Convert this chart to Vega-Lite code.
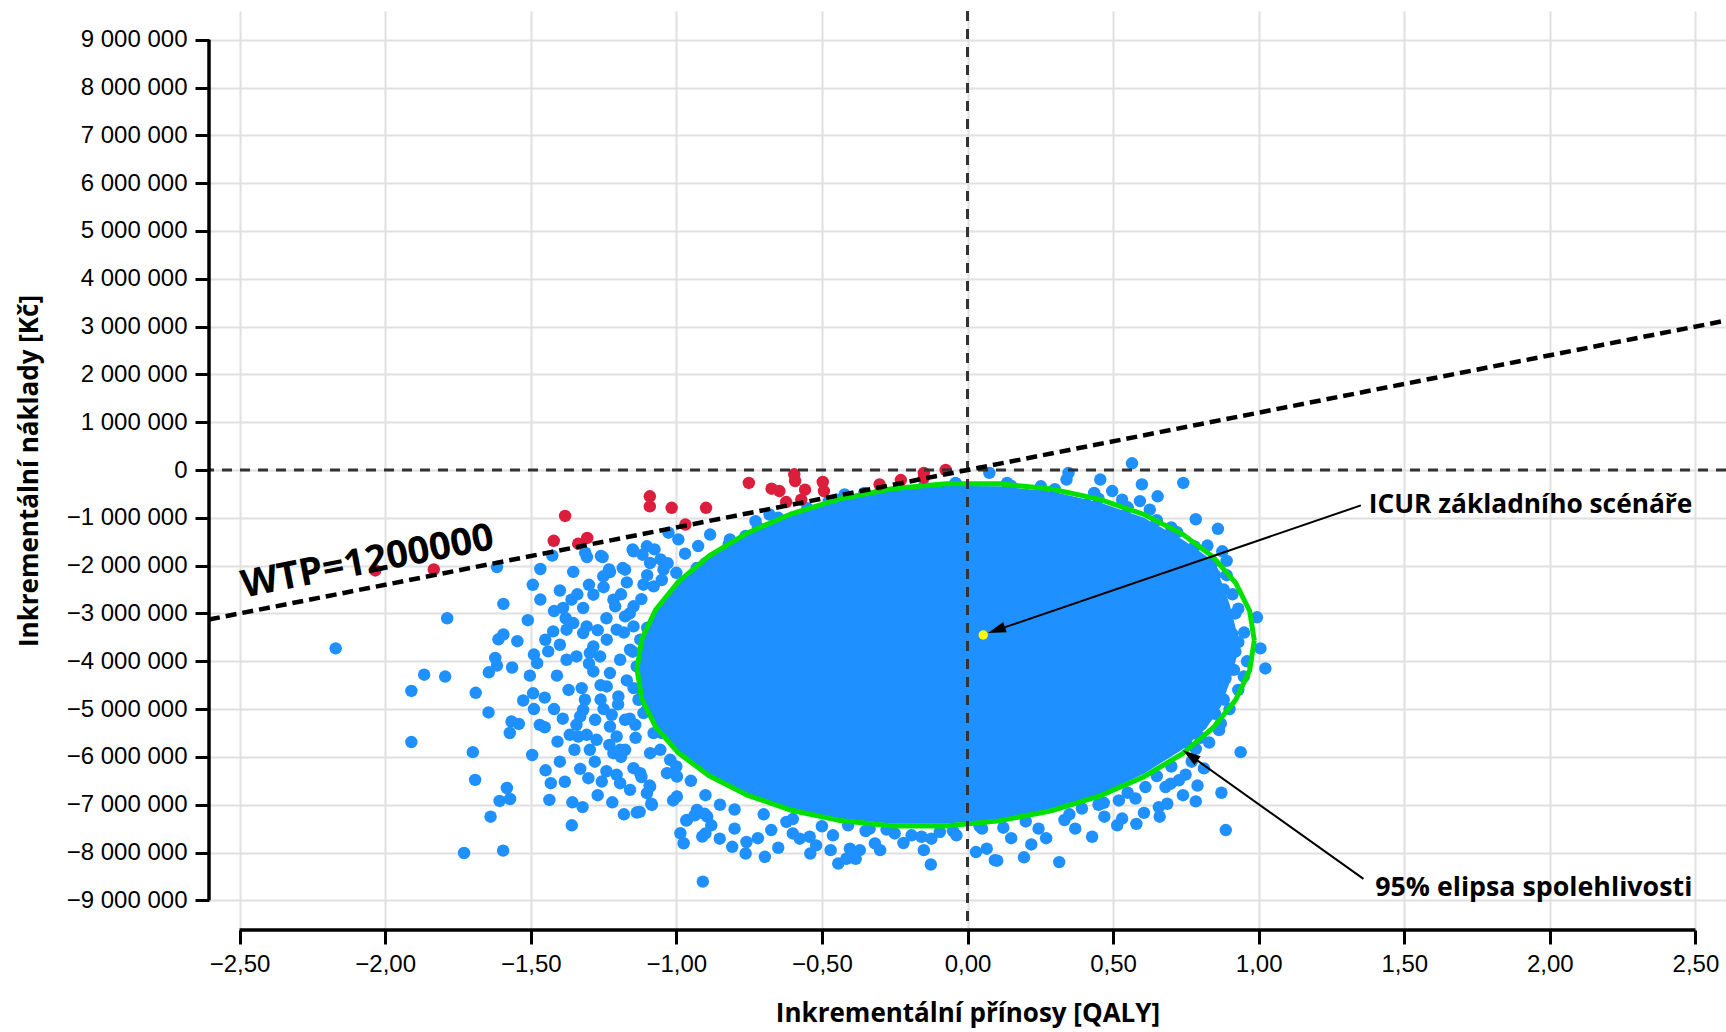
{
"$schema": "https://vega.github.io/schema/vega-lite/v6.json",
"width": 1517,
"height": 919,
"autosize": {"type": "none"},
"padding": {"left": 209, "top": 11, "right": 0, "bottom": 102},
"background": "white",
"data": {"values": [{}]},
"config": {
  "view": {"stroke": null},
  "locale": {"number": {"decimal": ",", "thousands": " ", "grouping": [3], "currency": ["", " Kč"], "minus": "\u2212"}},
  "axis": {"domain": false, "grid": true, "gridColor": "#e0e0e0", "gridWidth": 2, "ticks": true, "tickColor": "#000", "tickWidth": 3, "tickSize": 14, "labelFont": "Liberation Sans", "labelFontSize": 24, "labelColor": "#000", "labelPadding": 8, "labelFlush": false, "labelOverlap": false, "titleFont": "Open Sans", "titleFontWeight": "bold", "titleFontSize": 26, "titleColor": "#000"}
},
"datasets": {
  "core": [
    {"q":0.925,"top":-3400000,"bot":-3900000},{"q":0.9,"top":-2800000,"bot":-4450000},{"q":0.87,"top":-2300000,"bot":-4950000},{"q":0.82,"top":-1800000,"bot":-5400000},{"q":0.737,"top":-1450000,"bot":-5850000},{"q":0.606,"top":-1000000,"bot":-6350000},{"q":0.455,"top":-680000,"bot":-6780000},{"q":0.288,"top":-450000,"bot":-7080000},{"q":0.109,"top":-340000,"bot":-7300000},{"q":-0.075,"top":-330000,"bot":-7400000},{"q":-0.259,"top":-430000,"bot":-7400000},{"q":-0.438,"top":-650000,"bot":-7290000},{"q":-0.605,"top":-960000,"bot":-7080000},{"q":-0.756,"top":-1360000,"bot":-6770000},{"q":-0.887,"top":-1840000,"bot":-6360000},{"q":-0.993,"top":-2380000,"bot":-5880000},{"q":-1.071,"top":-2960000,"bot":-5340000},{"q":-1.115,"top":-3560000,"bot":-4760000},{"q":-1.13,"top":-4000000,"bot":-4300000}
  ],
  "ellipse": [
    {"i":0,"q":0.985,"c":-3565000},{"i":1,"q":0.969,"c":-2948000},{"i":2,"q":0.921,"c":-2359000},{"i":3,"q":0.843,"c":-1815000},{"i":4,"q":0.737,"c":-1334000},{"i":5,"q":0.606,"c":-930000},{"i":6,"q":0.455,"c":-615000},{"i":7,"q":0.288,"c":-398000},{"i":8,"q":0.109,"c":-287000},{"i":9,"q":-0.075,"c":-285000},{"i":10,"q":-0.259,"c":-391000},{"i":11,"q":-0.438,"c":-603000},{"i":12,"q":-0.605,"c":-915000},{"i":13,"q":-0.756,"c":-1316000},{"i":14,"q":-0.887,"c":-1794000},{"i":15,"q":-0.993,"c":-2335000},{"i":16,"q":-1.071,"c":-2923000},{"i":17,"q":-1.119,"c":-3539000},{"i":18,"q":-1.135,"c":-4165000},{"i":19,"q":-1.119,"c":-4782000},{"i":20,"q":-1.071,"c":-5371000},{"i":21,"q":-0.993,"c":-5915000},{"i":22,"q":-0.887,"c":-6396000},{"i":23,"q":-0.756,"c":-6800000},{"i":24,"q":-0.605,"c":-7115000},{"i":25,"q":-0.438,"c":-7332000},{"i":26,"q":-0.259,"c":-7443000},{"i":27,"q":-0.075,"c":-7445000},{"i":28,"q":0.109,"c":-7338000},{"i":29,"q":0.288,"c":-7126000},{"i":30,"q":0.455,"c":-6815000},{"i":31,"q":0.606,"c":-6415000},{"i":32,"q":0.737,"c":-5936000},{"i":33,"q":0.843,"c":-5395000},{"i":34,"q":0.921,"c":-4808000},{"i":35,"q":0.969,"c":-4191000},{"i":36,"q":0.985,"c":-3565000}
  ],
  "red": [
    {"q":-2.034,"c":-2100000},{"q":-1.833,"c":-2080000},{"q":-1.382,"c":-960000},{"q":-1.421,"c":-1480000},{"q":-1.337,"c":-1540000},{"q":-1.306,"c":-1420000},{"q":-1.091,"c":-550000},{"q":-1.091,"c":-760000},{"q":-1.016,"c":-790000},{"q":-0.898,"c":-790000},{"q":-0.969,"c":-1140000},{"q":-0.751,"c":-270000},{"q":-0.673,"c":-390000},{"q":-0.646,"c":-440000},{"q":-0.623,"c":-670000},{"q":-0.595,"c":-90000},{"q":-0.592,"c":-230000},{"q":-0.558,"c":-410000},{"q":-0.571,"c":-620000},{"q":-0.497,"c":-250000},{"q":-0.493,"c":-440000},{"q":-0.302,"c":-300000},{"q":-0.229,"c":-210000},{"q":-0.15,"c":-60000},{"q":-0.15,"c":-160000},{"q":-0.075,"c":0}
  ],
  "base": [{"q":0.054,"c":-3450000}],
  "blue": [
    {"q":-2.17,"c":-3730000},{"q":-1.787,"c":-3100000},{"q":-1.866,"c":-4280000},{"q":-1.794,"c":-4320000},{"q":-1.91,"c":-4620000},{"q":-1.91,"c":-5690000},{"q":-1.689,"c":-4660000},{"q":-1.645,"c":-5070000},{"q":-1.699,"c":-5900000},{"q":-1.691,"c":-6480000},{"q":-1.729,"c":-8010000},{"q":-1.595,"c":-7960000},{"q":-1.638,"c":-7250000},{"q":-1.607,"c":-6920000},{"q":-1.571,"c":-6880000},{"q":-1.582,"c":-6650000},{"q":-1.616,"c":-2030000},{"q":-1.594,"c":-2800000},{"q":-1.51,"c":-3140000},{"q":-1.493,"c":-2400000},{"q":-1.467,"c":-2070000},{"q":-1.467,"c":-2710000},{"q":-1.611,"c":-3540000},{"q":-1.594,"c":-3440000},{"q":-1.546,"c":-3580000},{"q":-1.622,"c":-3930000},{"q":-1.616,"c":-4090000},{"q":-1.644,"c":-4230000},{"q":-1.564,"c":-4130000},{"q":-1.503,"c":-4300000},{"q":-1.489,"c":-3860000},{"q":-1.478,"c":-4040000},{"q":-1.526,"c":-4820000},{"q":-1.492,"c":-4670000},{"q":-1.452,"c":-4760000},{"q":-1.489,"c":-5000000},{"q":-1.566,"c":-5260000},{"q":-1.572,"c":-5500000},{"q":-1.541,"c":-5310000},{"q":-1.469,"c":-5330000},{"q":-1.452,"c":-5380000},{"q":-1.495,"c":-5960000},{"q":-1.408,"c":-5680000},{"q":-1.449,"c":-6280000},{"q":-1.431,"c":-6550000},{"q":-1.383,"c":-6520000},{"q":-1.436,"c":-6900000},{"q":-1.357,"c":-6950000},{"q":-1.322,"c":-7050000},{"q":-1.359,"c":-7430000},{"q":-1.426,"c":-1790000},{"q":-1.307,"c":-1820000},{"q":-1.253,"c":-1820000},{"q":-1.4,"c":-2520000},{"q":-1.354,"c":-2130000},
    {"q":-1.389,"c":-2886000},{"q":-1.36,"c":-2712000},{"q":-1.32,"c":-2886000},{"q":-1.354,"c":-3200000},{"q":-1.308,"c":-3270000},{"q":-1.285,"c":-2607000},{"q":-1.251,"c":-2223000},{"q":-1.228,"c":-2133000},{"q":-1.216,"c":-2712000},{"q":-1.176,"c":-2084000},{"q":-1.147,"c":-1700000},{"q":-1.101,"c":-1595000},{"q":-1.09,"c":-1944000},{"q":-1.044,"c":-2084000},{"q":-1.113,"c":-2398000},{"q":-1.078,"c":-2433000},{"q":-1.147,"c":-2851000},{"q":-1.176,"c":-3061000},{"q":-1.205,"c":-3340000},{"q":-1.239,"c":-3549000},{"q":-1.285,"c":-3689000},{"q":-1.32,"c":-3410000},{"q":-1.377,"c":-3340000},{"q":-1.423,"c":-3375000},{"q":-1.44,"c":-3793000},{"q":-1.4,"c":-3654000},{"q":-1.377,"c":-3968000},{"q":-1.343,"c":-3898000},{"q":-1.297,"c":-3828000},{"q":-1.262,"c":-3898000},{"q":-1.285,"c":-4212000},{"q":-1.228,"c":-4247000},{"q":-1.193,"c":-3968000},{"q":-1.159,"c":-3759000},{"q":-1.136,"c":-4107000},{"q":-1.124,"c":-3549000},{"q":-1.147,"c":-3270000},
    {"q":-1.325,"c":-4561000},{"q":-1.314,"c":-4805000},{"q":-1.32,"c":-5015000},{"q":-1.279,"c":-5224000},{"q":-1.343,"c":-5329000},{"q":-1.366,"c":-5538000},{"q":-1.337,"c":-5573000},{"q":-1.308,"c":-5538000},{"q":-1.274,"c":-5643000},{"q":-1.297,"c":-5852000},{"q":-1.222,"c":-5119000},{"q":-1.228,"c":-5364000},{"q":-1.205,"c":-5573000},{"q":-1.176,"c":-5224000},{"q":-1.141,"c":-5329000},{"q":-1.193,"c":-5852000},{"q":-1.216,"c":-5922000},{"q":-1.176,"c":-5852000},{"q":-1.147,"c":-6236000},{"q":-1.124,"c":-6341000},{"q":-1.205,"c":-6375000},{"q":-1.09,"c":-6620000},{"q":-1.101,"c":-6759000},{"q":-1.084,"c":-7004000},{"q":-1.136,"c":-7164000},{"q":-1.159,"c":-6689000},{"q":-1.193,"c":-6550000},{"q":-1.256,"c":-6515000},{"q":-1.302,"c":-6445000},{"q":-1.239,"c":-4526000},{"q":-1.199,"c":-4736000},{"q":-1.147,"c":-4561000},{"q":-1.13,"c":-4805000},{"q":-1.113,"c":-5084000},{"q":-1.078,"c":-5503000},{"q":-1.032,"c":-5503000},{"q":-1.055,"c":-5852000},{"q":-1.09,"c":-5922000},{"q":-1.032,"c":-6341000},{"q":-0.998,"c":-6829000},{"q":-0.963,"c":-7318000},{"q":-0.986,"c":-7597000},{"q":-0.975,"c":-7806000},{"q":-0.911,"c":-7666000},{"q":-0.909,"c":-8608000},{"q":-0.894,"c":-7248000},{"q":-0.929,"c":-7108000},{"q":-0.998,"c":-6410000},{"q":-1.021,"c":-6061000},
    {"q":0.075,"c":-60000},{"q":0.565,"c":140000},{"q":0.347,"c":-60000},{"q":0.34,"c":-200000},{"q":0.456,"c":-200000},{"q":0.599,"c":-300000},{"q":0.653,"c":-550000},{"q":0.741,"c":-270000},{"q":0.592,"c":-650000},{"q":0.626,"c":-830000},{"q":0.497,"c":-440000},{"q":0.531,"c":-620000},{"q":0.435,"c":-480000},{"q":0.408,"c":-720000},{"q":0.252,"c":-340000},{"q":0.136,"c":-270000},{"q":-0.041,"c":-270000},{"q":-0.272,"c":-580000},{"q":-0.245,"c":-440000},{"q":-0.354,"c":-480000},{"q":-0.422,"c":-510000},{"q":-0.476,"c":-650000},{"q":-0.728,"c":-1070000},{"q":-0.68,"c":-930000},{"q":-0.884,"c":-1350000},{"q":-0.925,"c":-1590000},{"q":-0.993,"c":-1450000},{"q":-1.027,"c":-1310000},{"q":-1.15,"c":-1660000},{"q":-1.116,"c":-1770000},{"q":-1.075,"c":-1660000},{"q":-1.054,"c":-1870000},{"q":-1.259,"c":-1800000},{"q":-1.184,"c":-2050000},{"q":-1.231,"c":-2080000},{"q":-1.313,"c":-1730000},{"q":-0.816,"c":-1450000},{"q":-0.762,"c":-1380000},{"q":-0.714,"c":-1240000},
    {"q":0.784,"c":-1030000},{"q":0.86,"c":-1230000},{"q":0.824,"c":-1580000},{"q":0.875,"c":-1700000},{"q":0.841,"c":-2120000},{"q":0.801,"c":-2500000},{"q":0.824,"c":-2640000},{"q":0.858,"c":-2780000},{"q":0.898,"c":-3030000},{"q":0.878,"c":-3150000},{"q":0.994,"c":-3080000},{"q":0.909,"c":-3430000},{"q":0.83,"c":-3520000},{"q":1.006,"c":-3730000},{"q":1.023,"c":-4150000},{"q":0.881,"c":-4010000},{"q":0.915,"c":-4180000},{"q":0.949,"c":-4320000},{"q":0.886,"c":-4360000},{"q":0.841,"c":-4740000},{"q":0.852,"c":-4570000},{"q":0.818,"c":-4360000},{"q":0.79,"c":-4530000},{"q":0.864,"c":-5440000},{"q":0.938,"c":-5900000},{"q":0.812,"c":-6240000},{"q":0.784,"c":-5830000},
    {"q":0.872,"c":-6750000},{"q":0.784,"c":-6930000},{"q":0.887,"c":-7530000},{"q":0.749,"c":-6370000},{"q":0.726,"c":-6490000},{"q":0.68,"c":-6630000},{"q":0.698,"c":-6560000},{"q":0.657,"c":-7050000},{"q":0.686,"c":-6980000},{"q":0.606,"c":-7170000},{"q":0.611,"c":-6630000},{"q":0.577,"c":-6870000},{"q":0.514,"c":-7430000},{"q":0.531,"c":-7290000},{"q":0.428,"c":-7670000},{"q":0.52,"c":-6910000},{"q":0.468,"c":-6960000},{"q":0.393,"c":-7080000},{"q":0.333,"c":-7320000},{"q":0.315,"c":-8200000},{"q":0.194,"c":-8100000},{"q":0.219,"c":-7830000},{"q":0.094,"c":-8160000},{"q":0.066,"c":-7920000},{"q":0.123,"c":-7480000},{"q":0.244,"c":-7500000},
    {"q":-0.966,"c":-7330000},{"q":-0.937,"c":-7220000},{"q":-0.903,"c":-7190000},{"q":-0.88,"c":-7430000},{"q":-0.851,"c":-7710000},{"q":-0.808,"c":-7880000},{"q":-0.759,"c":-7780000},{"q":-0.762,"c":-8020000},{"q":-0.696,"c":-8090000},{"q":-0.674,"c":-7530000},{"q":-0.622,"c":-7360000},{"q":-0.576,"c":-7710000},{"q":-0.542,"c":-7670000},{"q":-0.54,"c":-8020000},{"q":-0.462,"c":-7640000},{"q":-0.444,"c":-8230000},{"q":-0.416,"c":-8130000},{"q":-0.384,"c":-8130000},{"q":-0.404,"c":-7920000},{"q":-0.37,"c":-7950000},{"q":-0.318,"c":-7810000},{"q":-0.41,"c":-7430000},{"q":-0.336,"c":-7500000},{"q":-0.278,"c":-7520000},{"q":-0.192,"c":-7640000},{"q":-0.158,"c":-7670000},{"q":-0.124,"c":-7710000},{"q":-0.095,"c":-7570000},{"q":-0.038,"c":-7640000},{"q":-0.126,"c":-8250000},{"q":0.029,"c":-7990000},{"q":0.102,"c":-8170000},{"q":0.042,"c":-7450000},{"q":-1.092,"c":-6600000},{"q":-1.126,"c":-7150000},{"q":-1.086,"c":-6980000},{"q":-1.011,"c":-6910000},{"q":-1.006,"c":-6350000},{"q":-1.12,"c":-6420000},
    {"q":-1.16,"c":-3000000},{"q":-1.18,"c":-3400000},{"q":-1.15,"c":-3800000},{"q":-1.17,"c":-4400000},{"q":-1.2,"c":-4900000},{"q":-1.16,"c":-5200000},{"q":-1.14,"c":-5600000},{"q":-1.19,"c":-6000000},{"q":-1.25,"c":-5000000},{"q":-1.26,"c":-4500000},{"q":-1.24,"c":-3100000},{"q":-1.3,"c":-2400000},{"q":-1.19,"c":-2600000},{"q":-1.12,"c":-2700000},{"q":-1.1,"c":-3300000},{"q":-1.12,"c":-4600000},{"q":-1.1,"c":-5000000},{"q":-1.05,"c":-5500000},{"q":-1.0,"c":-6200000},{"q":-0.95,"c":-6500000},{"q":-0.9,"c":-6800000},{"q":-0.85,"c":-7000000},{"q":-0.8,"c":-7100000},
    {"q":-0.7,"c":-7200000},{"q":-0.6,"c":-7300000},{"q":-0.5,"c":-7450000},{"q":-0.35,"c":-7550000},{"q":-0.25,"c":-7600000},{"q":-0.05,"c":-7550000},{"q":0.05,"c":-7500000},{"q":0.2,"c":-7350000},{"q":0.35,"c":-7200000},{"q":0.45,"c":-7000000},{"q":0.55,"c":-6750000},{"q":0.65,"c":-6400000},{"q":0.7,"c":-6200000},
    {"q":-0.65,"c":-1000000},{"q":-0.55,"c":-800000},{"q":-0.45,"c":-620000},{"q":-0.3,"c":-450000},{"q":-0.15,"c":-350000},{"q":0.15,"c":-330000},{"q":0.3,"c":-400000},{"q":0.45,"c":-600000},{"q":0.55,"c":-780000},{"q":0.65,"c":-1050000},{"q":0.72,"c":-1300000},{"q":0.78,"c":-1600000},{"q":0.84,"c":-1950000},{"q":-0.72,"c":-1200000},{"q":-0.82,"c":-1550000},{"q":-0.9,"c":-1950000},{"q":-0.98,"c":-2450000},
    {"q":0.88,"c":-2500000},{"q":0.85,"c":-2200000},{"q":0.92,"c":-3800000},{"q":0.93,"c":-2900000},{"q":0.82,"c":-5000000},{"q":0.86,"c":-4600000},{"q":0.78,"c":-5400000},{"q":0.8,"c":-5600000},{"q":0.92,"c":-3000000},{"q":0.87,"c":-3300000},{"q":0.9,"c":-3900000},{"q":0.8,"c":-2000000},{"q":0.76,"c":-1700000},{"q":0.7,"c":-1200000},{"q":0.85,"c":-5100000},{"q":0.75,"c":-5700000},{"q":0.88,"c":-4800000},{"q":0.84,"c":-3900000},{"q":0.8,"c":-4200000},{"q":0.83,"c":-2900000},
    {"q":-1.42,"c":-2950000},{"q":-1.38,"c":-3100000},{"q":-1.45,"c":-3550000},{"q":-1.41,"c":-4300000},{"q":-1.37,"c":-4600000},{"q":-1.42,"c":-5000000},{"q":-1.39,"c":-5200000},{"q":-1.35,"c":-5850000},{"q":-1.4,"c":-6100000},{"q":-1.33,"c":-6250000},{"q":-1.28,"c":-6100000},{"q":-1.24,"c":-6300000},{"q":-1.27,"c":-6800000},{"q":-1.22,"c":-6950000},{"q":-1.18,"c":-7200000},{"q":-1.3,"c":-4050000},{"q":-1.26,"c":-4800000},{"q":-1.33,"c":-5150000},{"q":-1.23,"c":-5750000},{"q":-1.27,"c":-3350000},{"q":-1.34,"c":-2600000},{"q":-1.25,"c":-2450000},{"q":-1.21,"c":-2850000},{"q":-1.17,"c":-2350000},{"q":-1.1,"c":-2200000},{"q":-1.05,"c":-2300000},{"q":-1.03,"c":-1950000},{"q":-0.97,"c":-1750000},{"q":-0.93,"c":-2050000},{"q":-1.0,"c":-2150000},
    {"q":-0.9,"c":-7600000},{"q":-0.8,"c":-7500000},{"q":-0.72,"c":-7700000},{"q":-0.65,"c":-7900000},{"q":-0.6,"c":-7600000},{"q":-0.52,"c":-7850000},{"q":-0.47,"c":-7950000},{"q":-0.3,"c":-7950000},{"q":-0.22,"c":-7800000},{"q":-0.15,"c":-7950000},{"q":0.15,"c":-7700000},{"q":0.27,"c":-7700000},{"q":0.37,"c":-7500000},{"q":0.47,"c":-7250000},{"q":0.58,"c":-7400000},{"q":0.66,"c":-7250000},{"q":0.74,"c":-6800000},{"q":0.79,"c":-6600000},
    {"q":0.95,"c":-3400000},{"q":0.96,"c":-4000000},{"q":0.93,"c":-4600000},{"q":0.9,"c":-5000000},{"q":0.91,"c":-2600000},{"q":0.89,"c":-2200000},{"q":0.87,"c":-5300000},{"q":0.83,"c":-5700000},{"q":0.77,"c":-6100000},{"q":0.89,"c":-1900000},{"q":0.93,"c":-3600000}
  ]
},
"layer": [
  {
    "data": {"name": "blue"},
    "mark": {"type": "circle", "color": "#1E90FF", "opacity": 1, "size": 155},
    "encoding": {
      "x": {"field": "q", "type": "quantitative",
        "scale": {"domain": [-2.605, 2.605], "nice": false, "zero": false},
        "axis": {"title": "Inkrementální přínosy [QALY]", "values": [-2.5,-2,-1.5,-1,-0.5,0,0.5,1,1.5,2,2.5], "format": ".2f", "titlePadding": 24}},
      "y": {"field": "c", "type": "quantitative",
        "scale": {"domain": [-9620000, 9600000], "nice": false, "zero": false},
        "axis": {"title": "Inkrementální náklady [Kč]", "values": [-9000000,-8000000,-7000000,-6000000,-5000000,-4000000,-3000000,-2000000,-1000000,0,1000000,2000000,3000000,4000000,5000000,6000000,7000000,8000000,9000000], "format": ",.0f", "titlePadding": 24}}
    }
  },
  {
    "data": {"name": "core"},
    "mark": {"type": "area", "color": "#1E90FF", "opacity": 1},
    "encoding": {
      "x": {"field": "q", "type": "quantitative"},
      "y": {"field": "top", "type": "quantitative"},
      "y2": {"field": "bot"}
    }
  },
  {
    "data": {"name": "ellipse"},
    "mark": {"type": "line", "color": "#00e000", "strokeWidth": 5},
    "encoding": {
      "x": {"field": "q", "type": "quantitative"},
      "y": {"field": "c", "type": "quantitative"},
      "order": {"field": "i", "type": "quantitative"}
    }
  },
  {
    "data": {"name": "red"},
    "mark": {"type": "circle", "color": "#DC1E3C", "opacity": 1, "size": 155},
    "encoding": {
      "x": {"field": "q", "type": "quantitative"},
      "y": {"field": "c", "type": "quantitative"}
    }
  },
  {
    "mark": {"type": "rule", "color": "#333", "strokeWidth": 3, "strokeDash": [10, 8]},
    "encoding": {"y": {"datum": 0, "type": "quantitative"}}
  },
  {
    "mark": {"type": "rule", "color": "#333", "strokeWidth": 3, "strokeDash": [10, 8]},
    "encoding": {"x": {"datum": 0, "type": "quantitative"}}
  },
  {
    "mark": {"type": "rule", "color": "#000", "strokeWidth": 4.5, "strokeDash": [11, 6]},
    "encoding": {
      "x": {"datum": -2.605, "type": "quantitative"},
      "y": {"datum": -3126000, "type": "quantitative"},
      "x2": {"datum": 2.605},
      "y2": {"datum": 3126000}
    }
  },
  {
    "mark": {"type": "rule", "color": "#000", "strokeWidth": 3.5},
    "encoding": {
      "x": {"datum": -2.605, "type": "quantitative"},
      "y": {"datum": -9000000, "type": "quantitative"},
      "y2": {"datum": 9000000}
    }
  },
  {
    "mark": {"type": "rule", "color": "#000", "strokeWidth": 3.5},
    "encoding": {
      "y": {"datum": -9620000, "type": "quantitative"},
      "x": {"datum": -2.5, "type": "quantitative"},
      "x2": {"datum": 2.5}
    }
  },
  {
    "data": {"name": "base"},
    "mark": {"type": "circle", "color": "#ffff00", "opacity": 1, "size": 90},
    "encoding": {
      "x": {"field": "q", "type": "quantitative"},
      "y": {"field": "c", "type": "quantitative"}
    }
  },
  {
    "mark": {"type": "rule", "color": "#000", "strokeWidth": 2},
    "encoding": {
      "x": {"datum": 1.351, "type": "quantitative"},
      "y": {"datum": -740000, "type": "quantitative"},
      "x2": {"datum": 0.0996},
      "y2": {"datum": -3349000}
    }
  },
  {
    "mark": {"type": "rule", "color": "#000", "strokeWidth": 2},
    "encoding": {
      "x": {"datum": 1.36, "type": "quantitative"},
      "y": {"datum": -8550000, "type": "quantitative"},
      "x2": {"datum": 0.765},
      "y2": {"datum": -5969000}
    }
  },
  {
    "mark": {"type": "point", "shape": "M0,-1L-0.6,1L0.6,1Z", "filled": true, "color": "#000", "opacity": 1, "size": 324, "angle": 251},
    "encoding": {
      "x": {"datum": 0.0996, "type": "quantitative"},
      "y": {"datum": -3349000, "type": "quantitative"}
    }
  },
  {
    "mark": {"type": "point", "shape": "M0,-1L-0.6,1L0.6,1Z", "filled": true, "color": "#000", "opacity": 1, "size": 324, "angle": 305.5},
    "encoding": {
      "x": {"datum": 0.765, "type": "quantitative"},
      "y": {"datum": -5969000, "type": "quantitative"}
    }
  },
  {
    "mark": {"type": "text", "text": "ICUR základního scénáře", "align": "left", "baseline": "alphabetic", "font": "Open Sans", "fontWeight": "bold", "fontSize": 26.3, "color": "#000"},
    "encoding": {
      "x": {"datum": 1.378, "type": "quantitative"},
      "y": {"datum": -905000, "type": "quantitative"}
    }
  },
  {
    "mark": {"type": "text", "text": "95% elipsa spolehlivosti", "align": "left", "baseline": "alphabetic", "font": "Open Sans", "fontWeight": "bold", "fontSize": 26.8, "color": "#000"},
    "encoding": {
      "x": {"datum": 1.4, "type": "quantitative"},
      "y": {"datum": -8910000, "type": "quantitative"}
    }
  },
  {
    "mark": {"type": "text", "text": "WTP=1200000", "align": "center", "baseline": "middle", "angle": -11, "font": "Open Sans", "fontWeight": "bold", "fontSize": 38, "color": "#000"},
    "encoding": {
      "x": {"datum": -2.06, "type": "quantitative"},
      "y": {"datum": -1930000, "type": "quantitative"}
    }
  }
]
}
